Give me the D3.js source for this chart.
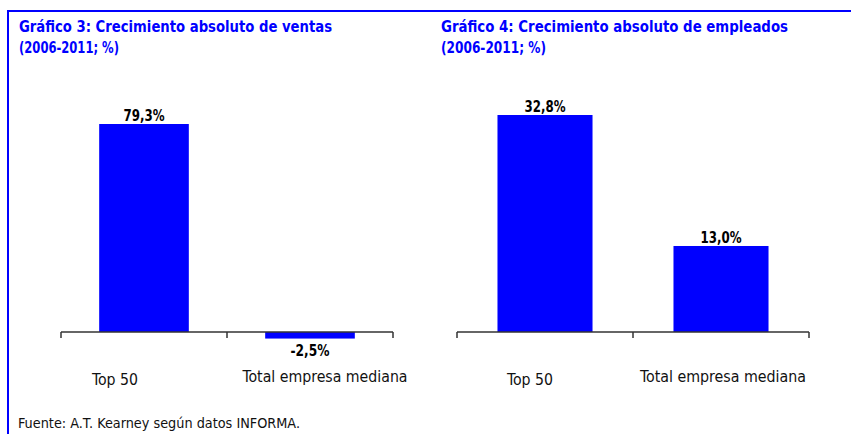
<!DOCTYPE html>
<html>
<head>
<meta charset="utf-8">
<script src="https://cdn.jsdelivr.net/npm/d3@7"></script>
<style>
  html, body { margin: 0; padding: 0; background: #fff; }
  svg { display: block; }
  text { font-family: "DejaVu Sans Condensed", "Liberation Sans", sans-serif; }
</style>
</head>
<body>
<div id="chart"></div>
<script>
// data
var categories = ["Top 50", "Total empresa mediana"];
var ventas = [79.3, -2.5];
var empleados = [32.8, 13.0];
var titles3 = ["Gráfico 3: Crecimiento absoluto de ventas", "(2006-2011; %)"];
var titles4 = ["Gráfico 4: Crecimiento absoluto de empleados", "(2006-2011; %)"];
var source = "Fuente: A.T. Kearney según datos INFORMA.";

var W = 851, H = 434;
var blue = "#0000ff";

var svg = d3.select("#chart").append("svg")
    .attr("width", W).attr("height", H);

// frame: top and left blue rule
svg.append("line").attr("x1", 8).attr("x2", W).attr("y1", 11).attr("y2", 11)
    .attr("stroke", blue).attr("stroke-width", 2);
svg.append("line").attr("x1", 8).attr("x2", 8).attr("y1", 10).attr("y2", H)
    .attr("stroke", blue).attr("stroke-width", 2);

function fmt(v) {
    return d3.format(".1f")(v).replace(".", ",").replace("\u2212", "-") + "%";
}

function panel(opt) {
    var g = svg.append("g");

    // titles
    opt.titles.forEach(function(t, i) {
        g.append("text")
            .attr("x", opt.titleX).attr("y", 32 + i * 21)
            .attr("fill", blue)
            .attr("font-weight", "bold")
            .attr("font-size", 16.5)
            .attr("textLength", opt.titleW[i])
            .attr("lengthAdjust", "spacingAndGlyphs")
            .text(t);
    });

    var x = d3.scaleBand().domain(categories)
        .range([opt.x0, opt.x1]).paddingInner(0.46).paddingOuter(0.23);
    var y = d3.scaleLinear().domain(opt.domain).range([opt.y1, opt.y0]);

    // bars
    g.selectAll("rect.bar").data(opt.values).enter().append("rect")
        .attr("class", "bar")
        .attr("x", function(d, i) { return x(categories[i]); })
        .attr("width", x.bandwidth())
        .attr("y", function(d) { return y(Math.max(0, d)); })
        .attr("height", function(d) { return Math.abs(y(d) - y(0)); })
        .attr("fill", blue);

    // value labels
    g.selectAll("text.val").data(opt.values).enter().append("text")
        .attr("class", "val")
        .attr("x", function(d, i) { return x(categories[i]) + x.bandwidth() / 2; })
        .attr("y", function(d) { return d >= 0 ? y(d) - 3 : y(d) + 17; })
        .attr("text-anchor", "middle")
        .attr("font-weight", "bold")
        .attr("font-size", 16)
        .attr("fill", "#000")
        .attr("textLength", function(d) { return d < 0 ? 39 : 41; })
        .attr("lengthAdjust", "spacingAndGlyphs")
        .text(fmt);

    // category axis with tick marks between groups
    var ax = g.append("g");
    var yz = y(0);
    ax.append("line").attr("x1", opt.x0).attr("x2", opt.x1)
        .attr("y1", yz).attr("y2", yz)
        .attr("stroke", "#333").attr("stroke-width", 1.5);
    var edges = [opt.x0, (opt.x0 + opt.x1) / 2, opt.x1];
    ax.selectAll("line.tk").data(edges).enter().append("line")
        .attr("class", "tk")
        .attr("x1", function(d) { return d; }).attr("x2", function(d) { return d; })
        .attr("y1", yz).attr("y2", yz + 6)
        .attr("stroke", "#333").attr("stroke-width", 1.5);

    g.selectAll("text.cat").data(categories).enter().append("text")
        .attr("class", "cat")
        .attr("x", function(d, i) { return x(d) + x.bandwidth() / 2 + opt.catDx[i]; })
        .attr("y", function(d, i) { return i === 0 ? 385 : 382; })
        .attr("text-anchor", "middle")
        .attr("font-size", 16)
        .attr("fill", "#111")
        .attr("textLength", function(d, i) { return opt.catW[i]; })
        .attr("lengthAdjust", "spacingAndGlyphs")
        .text(function(d) { return d; });
}

panel({
    titles: titles3, titleX: 19, titleW: [313, 100],
    values: ventas, x0: 61, x1: 393, y0: 124, y1: 332, domain: [0, 79.3],
    catDx: [-29, 15], catW: [46, 165]
});

panel({
    titles: titles4, titleX: 441, titleW: [347, 105],
    values: empleados, x0: 457, x1: 809, y0: 115, y1: 332, domain: [0, 32.8],
    catDx: [-15, 2], catW: [46, 166]
});

svg.append("text")
    .attr("x", 18).attr("y", 428)
    .attr("font-size", 14)
    .attr("fill", "#111")
    .attr("textLength", 282)
    .attr("lengthAdjust", "spacingAndGlyphs")
    .text(source);
</script>
</body>
</html>
